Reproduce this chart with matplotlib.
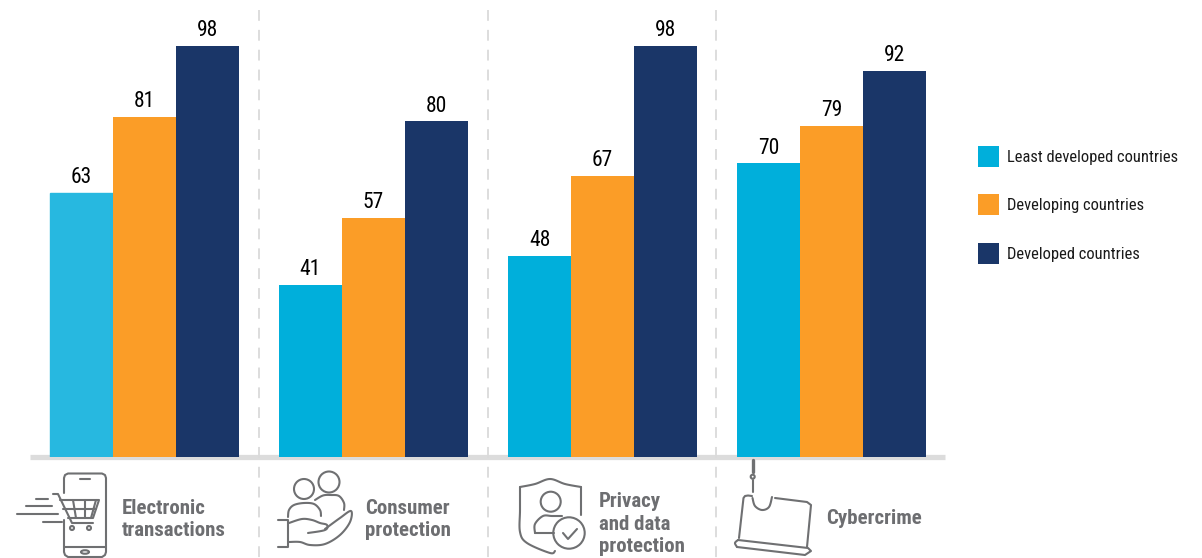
"""Share of countries with e-commerce legislation, by topic and development group."""
import matplotlib
matplotlib.use("Agg")
import matplotlib.pyplot as plt
from matplotlib import font_manager as fm
from matplotlib.patches import Circle, Ellipse, Rectangle
import numpy as np

topics = ["Electronic\ntransactions", "Consumer\nprotection", "Privacy\nand data\nprotection", "Cybercrime"]
least_developed = [63, 41, 48, 70]
developing = [81, 57, 67, 79]
developed = [98, 80, 98, 92]
series_names = ["Least developed countries", "Developing countries", "Developed countries"]

CYAN = "#00afdb"
CYAN_LIGHT = "#27b8e0"
ORANGE = "#fb9d27"
NAVY = "#1a3668"
GREY = "#6d6e71"
ICON = "#6f7072"
RULE = "#dcdcdc"

W, H = 1202, 558
installed = {f.name for f in fm.fontManager.ttflist}
FONT = next((n for n in ["Roboto Condensed", "Archivo Narrow", "Liberation Sans Narrow", "Liberation Sans"]
             if n in installed))
NARROW = FONT != "Liberation Sans"
plt.rcParams["font.family"] = [FONT, "DejaVu Sans"]

fig = plt.figure(figsize=(W / 100, H / 100), dpi=100, facecolor="white")

# Bar panel: x in group units (229 px per group), y in percent
left, right, bottom, top = 30, 945, 457, 5
ax = fig.add_axes([left / W, 1 - bottom / H, (right - left) / W, (bottom - top) / H])
px_per_group = 229
first_center = 144.5
ax.set_xlim((left - first_center) / px_per_group, (right - first_center) / px_per_group)
ax.set_ylim(0, (bottom - top) / (411 / 98))
ax.axis("off")

x = np.arange(len(topics))
width = 63 / px_per_group
values = [least_developed, developing, developed]
colors = [CYAN, ORANGE, NAVY]

ax.plot(ax.get_xlim(), [0.05, 0.05], color=RULE, lw=3.8, solid_capstyle="butt", clip_on=False, zorder=1)

for i, (vals, col) in enumerate(zip(values, colors)):
    bars = ax.bar(x + (i - 1) * width, vals, width, color=col, zorder=2)
    if i == 0:
        bars[0].set_color(CYAN_LIGHT)
    for xpos, v in zip(x + (i - 1) * width, vals):
        ax.annotate(str(v), (xpos, v), xytext=(0, 3.5), textcoords="offset points", ha="center", va="bottom",
                    fontsize=15.5 if NARROW else 13, color="black", zorder=3)

# Overlay in pixel coordinates for separators, legend and the topic row
ov = fig.add_axes([0, 0, 1, 1], facecolor="none")
ov.set_xlim(0, W)
ov.set_ylim(H, 0)
ov.axis("off")

for sep in [259, 488, 716]:
    ov.plot([sep, sep], [10, 558], color="#dadada", lw=1.3, ls=(0, (6, 5)), zorder=0)

for name, col, y in zip(series_names, colors, [156.5, 204.5, 253]):
    ov.add_patch(Rectangle((978, y - 10.5), 21, 21, facecolor=col, edgecolor="none"))
    ov.text(1007, y + 1, name, fontsize=11.9 if NARROW else 10.5, color="#1a1a1a", va="center", ha="left")

for label, (tx, ty) in zip(topics, [(122, 519.5), (365, 519.5), (599, 524), (826, 519)]):
    ov.text(tx, ty, label, fontsize=15 if NARROW else 12.5, fontweight="bold", color=GREY, va="center", ha="left",
            linespacing=1.26)


def stroke(*pts, lw=1.5):
    xs, ys = zip(*pts)
    ov.plot(xs, ys, color=ICON, lw=lw, solid_capstyle="round", solid_joinstyle="round")


def curve(*pts, lw=1.5):
    # Catmull-Rom through the given points, for the rounded parts of the icons
    p = np.array([pts[0]] + list(pts) + [pts[-1]], dtype=float)
    t = np.linspace(0, 1, 12)[:, None]
    out = []
    for a, b, c, d in zip(p, p[1:], p[2:], p[3:]):
        out.append(0.5 * (2 * b + (c - a) * t + (2 * a - 5 * b + 4 * c - d) * t ** 2
                          + (3 * b - a - 3 * c + d) * t ** 3))
    xy = np.vstack(out)
    ov.plot(xy[:, 0], xy[:, 1], color=ICON, lw=lw, solid_capstyle="round", solid_joinstyle="round")


def ring(cx, cy, r, lw=1.5):
    ov.add_patch(Circle((cx, cy), r, fill=False, edgecolor=ICON, lw=lw))


# Phone with shopping cart
stroke((64, 493), (64, 478), (65, 475), (68, 473.5), (102, 473.5), (105, 475), (106, 478), (106, 552),
       (105, 555), (102, 557), (68, 557), (65, 555), (64, 552), (64, 520))
stroke((80, 479), (90, 479))
stroke((64, 547), (106, 547))
ov.add_patch(Ellipse((85, 552), 8, 3.5, fill=False, edgecolor=ICON, lw=1.5))
stroke((53, 494), (58, 494), (72, 523), (93, 523))
stroke((60, 500), (99, 500), (93, 518), (68, 518))
stroke((63, 509), (96, 509))
for a, b in [(73, 76), (85, 85), (96, 91)]:
    stroke((a, 500), (b, 518))
ring(72, 528, 2)
ring(89, 528, 2)
stroke((36, 499), (48, 499))
stroke((26, 506), (52, 506))
stroke((17, 514), (58, 514))
stroke((43, 522), (62, 522))

# People held in a hand
ring(304, 489, 10)
ring(329, 482, 10.5)
curve((288, 517), (289, 510), (294, 505), (304, 503), (314, 504), (320, 510), (321, 516))
curve((315, 500), (323, 495.5), (331, 495), (339, 496), (344, 503), (344, 510))
stroke((278, 520), (288, 520), (288, 547), (278, 547))
curve((289, 523), (302, 519), (312, 520), (320, 523), (327, 525), (325, 530), (308, 533))
curve((325, 529), (340, 518), (351, 511), (350, 522), (340, 535), (325, 544), (310, 545), (300, 542), (289, 542))

# Shield with user and check mark
curve((581, 487), (565, 484), (550, 479), (535, 484), (520, 487))
curve((520, 487), (520, 510), (520, 532), (527, 543), (550, 553), (555, 551))
stroke((581, 487), (581, 515))
ring(550.7, 501.7, 10)
curve((535, 533), (535, 524), (543, 516), (552, 516), (562, 516))
stroke((535, 533), (554, 533))
ring(569, 533, 15.7)
stroke((563, 533), (568, 539), (577, 529))

# Hooked laptop
stroke((752.7, 460), (752.7, 472), lw=2.4)
ring(752.7, 476.7, 2)
stroke((752.7, 480), (752.7, 492))
stroke((752, 496), (748, 495.5), (745, 496), (743.5, 498), (739, 538))
stroke((775, 498), (807, 502), (811, 505), (807, 547))
curve((752.5, 498), (755, 506), (762, 510), (769, 507), (772, 497))
curve((738, 540), (735, 543), (737, 547))
stroke((738, 540), (808, 548), (811, 551), (805, 555), (737, 547))

fig.savefig("out.png", dpi=100)
